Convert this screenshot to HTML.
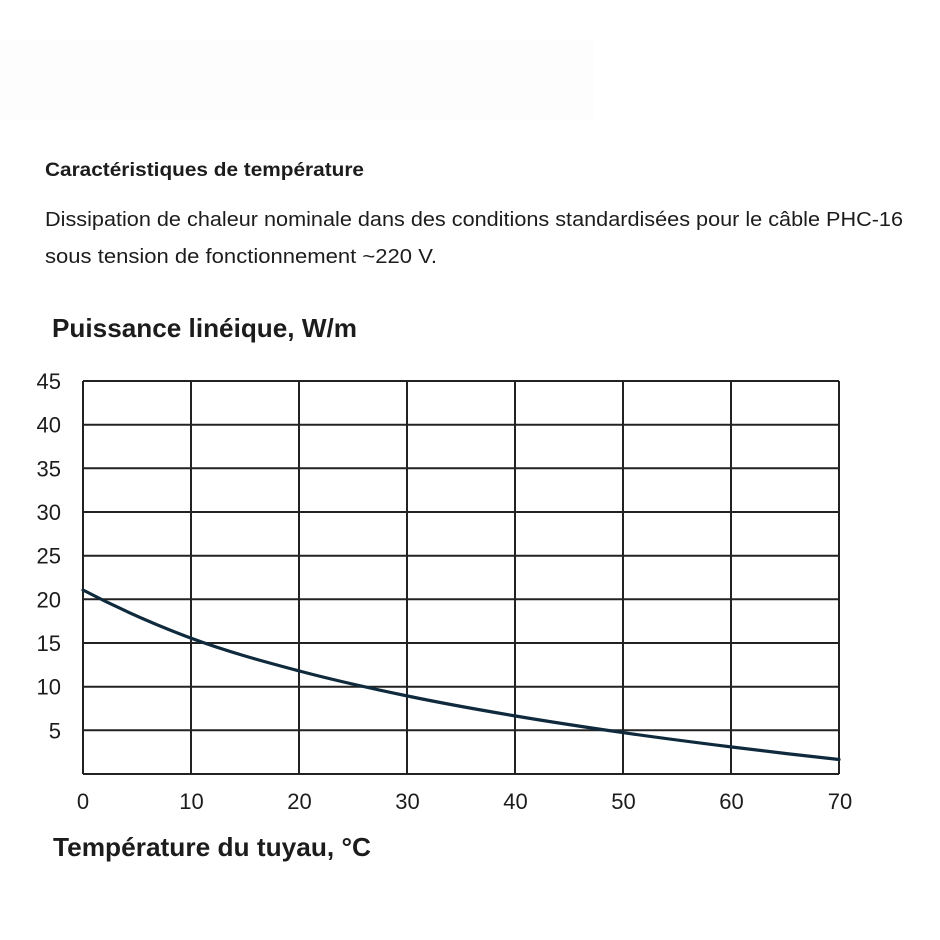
<!DOCTYPE html>
<html><head><meta charset="utf-8"><style>
html,body{margin:0;padding:0;background:#fff;width:940px;height:940px;overflow:hidden}
svg{display:block}
text{font-family:"Liberation Sans",sans-serif;fill:#1c1c1c}
</style></head><body>
<svg width="940" height="940" viewBox="0 0 940 940" xmlns="http://www.w3.org/2000/svg">
<rect x="0" y="40" width="593" height="80" fill="#fdfdfd"/>
<text x="45" y="176" font-size="19" font-weight="bold" textLength="319" lengthAdjust="spacingAndGlyphs">Caractéristiques de température</text>
<text x="45" y="226" font-size="20" textLength="858" lengthAdjust="spacingAndGlyphs" fill="#222">Dissipation de chaleur nominale dans des conditions standardisées pour le câble PHC-16</text>
<text x="45" y="263" font-size="20" textLength="392" lengthAdjust="spacingAndGlyphs" fill="#222">sous tension de fonctionnement ~220 V.</text>
<text x="52" y="337" font-size="26" font-weight="bold" textLength="305" lengthAdjust="spacingAndGlyphs">Puissance linéique, W/m</text>
<text x="53" y="856" font-size="26" font-weight="bold" textLength="318" lengthAdjust="spacingAndGlyphs">Température du tuyau, °C</text>
<g stroke="#222" stroke-width="2" fill="none">
<line x1="83" y1="381" x2="839" y2="381"/>
<line x1="83" y1="424.7" x2="839" y2="424.7"/>
<line x1="83" y1="468.3" x2="839" y2="468.3"/>
<line x1="83" y1="512" x2="839" y2="512"/>
<line x1="83" y1="555.7" x2="839" y2="555.7"/>
<line x1="83" y1="599.3" x2="839" y2="599.3"/>
<line x1="83" y1="643" x2="839" y2="643"/>
<line x1="83" y1="686.7" x2="839" y2="686.7"/>
<line x1="83" y1="730.3" x2="839" y2="730.3"/>
<line x1="83" y1="774" x2="839" y2="774"/>
<line x1="83" y1="381" x2="83" y2="774"/>
<line x1="191" y1="381" x2="191" y2="774"/>
<line x1="299" y1="381" x2="299" y2="774"/>
<line x1="407" y1="381" x2="407" y2="774"/>
<line x1="515" y1="381" x2="515" y2="774"/>
<line x1="623" y1="381" x2="623" y2="774"/>
<line x1="731" y1="381" x2="731" y2="774"/>
<line x1="839" y1="381" x2="839" y2="774"/>
</g>
<path d="M83,590 C119,608.9 155.3,624.8 191.3,638.3 C227.3,651.8 263.4,661.4 299.4,671 C335.4,680.6 371.5,688.5 407.5,696 C443.5,703.5 479.6,709.9 515.6,716 C551.6,722.1 587.7,727.5 623.7,732.7 C659.7,737.9 695.8,742.5 731.8,747 C767.8,751.5 803,755.6 839,759.5" fill="none" stroke="#0f2a3c" stroke-width="3.2" stroke-linecap="round"/>
<g font-size="22" text-anchor="end">
<text x="61" y="389">45</text>
<text x="61" y="432.7">40</text>
<text x="61" y="476.3">35</text>
<text x="61" y="520">30</text>
<text x="61" y="563.7">25</text>
<text x="61" y="607.3">20</text>
<text x="61" y="651">15</text>
<text x="61" y="694.7">10</text>
<text x="61" y="738.5">5</text>
</g>
<g font-size="22" text-anchor="middle">
<text x="83" y="809">0</text>
<text x="191.5" y="809">10</text>
<text x="299.5" y="809">20</text>
<text x="407.5" y="809">30</text>
<text x="515.5" y="809">40</text>
<text x="623.5" y="809">50</text>
<text x="731.5" y="809">60</text>
<text x="840" y="809">70</text>
</g>
</svg>
</body></html>
